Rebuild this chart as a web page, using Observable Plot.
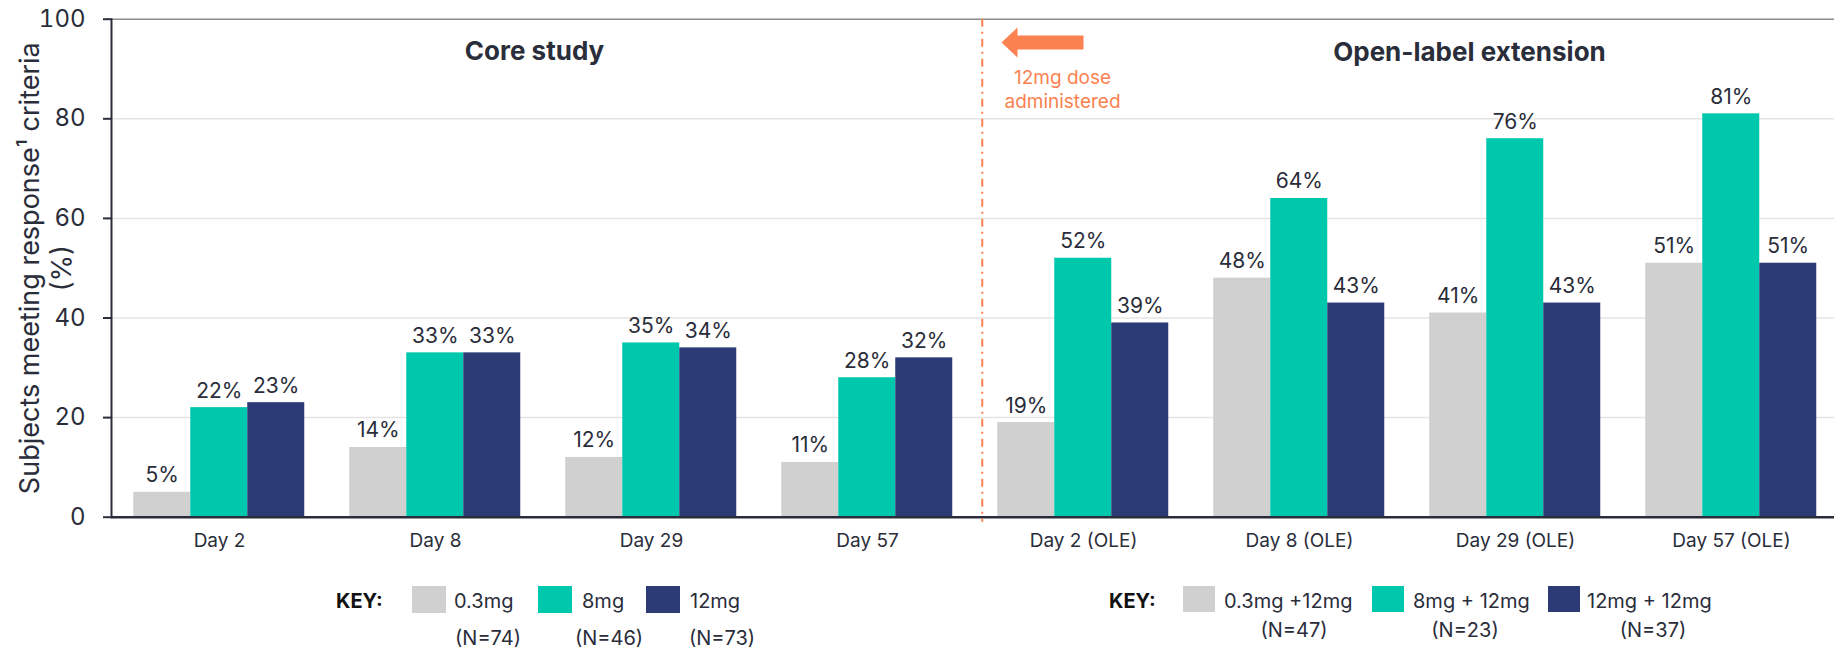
<!DOCTYPE html>
<html><head><meta charset="utf-8">
<script src="https://cdn.jsdelivr.net/npm/d3@7"></script>
<script src="https://cdn.jsdelivr.net/npm/@observablehq/plot@0.6"></script>
<style>
html,body{margin:0;padding:0;background:#fff;overflow:hidden;width:1834px;height:649px;}
#wrap{position:relative;width:1834px;height:649px;}
#wrap svg.legend{position:absolute;left:0;top:0;pointer-events:none;}
</style></head><body><div id="wrap"></div>
<script>
// ---- data ----
const days = ["Day 2","Day 8","Day 29","Day 57","Day 2 (OLE)","Day 8 (OLE)","Day 29 (OLE)","Day 57 (OLE)"];
const series = ["0.3mg","8mg","12mg"];
const lowValues  = [5, 14, 12, 11, 19, 48, 41, 51];
const midValues  = [22, 33, 35, 28, 52, 64, 76, 81];
const highValues = [23, 33, 34, 32, 39, 43, 43, 51];
const colors = ["#D0D0D0", "#00C8AC", "#2C3A76"];
const yTicks = [0, 20, 40, 60, 80, 100];
const gridTicks = [20, 40, 60, 80];
const coreKeyLabels = ["0.3mg", "8mg", "12mg"];
const coreKeyN = ["(N=74)", "(N=46)", "(N=73)"];
const oleKeyLabels = ["0.3mg +12mg", "8mg + 12mg", "12mg + 12mg"];
const oleKeyN = ["(N=47)", "(N=23)", "(N=37)"];
const yLabel = "Subjects meeting response\u00B9 criteria\n(%)";
const coreTitle = "Core study";
const oleTitle = "Open-label extension";
const doseNote = "12mg dose\nadministered";
const keyWord = "KEY:";

const textColor = "#2a2d3a";
const orange = "#FB8150";

const seriesValues = [lowValues, midValues, highValues];
const rows = days.flatMap((day, i) => series.map((s, j) => ({day, series: s, value: seriesValues[j][i]})));

const arrowSymbol = {
  draw(ctx) {
    ctx.moveTo(-41, 0); ctx.lineTo(-25, -15); ctx.lineTo(-25, -7); ctx.lineTo(41, -7);
    ctx.lineTo(41, 7); ctx.lineTo(-25, 7); ctx.lineTo(-25, 15); ctx.closePath();
  }
};

const H = 565, top0 = 18.7, base0 = 516.7, left0 = 108.75;

const chart = Plot.plot({
  width: 1834, height: H,
  marginLeft: left0, marginRight: 0, marginTop: top0, marginBottom: H - base0,
  style: {fontFamily: "Inter, sans-serif", color: textColor, background: "transparent", overflow: "visible"},
  fx: {domain: days, range: [left0, left0 + 8 * 216.5], padding: 0, label: null},
  x: {domain: series, paddingInner: 0, paddingOuter: 0.39, axis: null},
  y: {domain: [0, 100], label: null},
  color: {domain: series, range: colors},
  marks: [
    Plot.ruleY(gridTicks, {stroke: "#e4e4e4", strokeWidth: 1.5}),
    Plot.ruleY([100], {stroke: "#8c8c8c", strokeWidth: 1.5}),
    Plot.barY(rows, {fx: "day", x: "series", y: "value", fill: "series"}),
    Plot.ruleY([0], {stroke: textColor, strokeWidth: 2.5}),
    Plot.frame({anchor: "left", facetAnchor: "left", stroke: textColor, strokeWidth: 2}),
    Plot.axisY({ticks: yTicks, tickSize: 8, tickPadding: 18, fontSize: 24, strokeWidth: 2, label: null, fill: textColor}),
    Plot.axisFx({anchor: "bottom", tickSize: 0, tickPadding: 16, fontSize: 19, label: null, fill: textColor}),
    Plot.text(rows, {fx: "day", x: "series", y: "value", text: d => `${d.value}%`, lineAnchor: "bottom", dy: -10, fontSize: 21, fill: textColor}),
    Plot.text([{day: "Day 2"}], {fx: "day", frameAnchor: "left", text: () => yLabel, rotate: -90, fontSize: 27, lineHeight: 1.2, lineAnchor: "middle", textAnchor: "middle", dx: -67, fill: textColor}),
    Plot.text([{day: "Day 8"}], {fx: "day", frameAnchor: "top", text: () => coreTitle, fontSize: 26, fontWeight: "bold", lineAnchor: "middle", dx: 99, dy: 32, fill: textColor}),
    Plot.text([{day: "Day 29 (OLE)"}], {fx: "day", frameAnchor: "top", text: () => oleTitle, fontSize: 26, fontWeight: "bold", lineAnchor: "middle", dx: -46, dy: 33, fill: textColor}),
    Plot.ruleX([{day: "Day 2 (OLE)"}], {fx: "day", x: null, y1: 100, y2: 0, insetBottom: -5, dx: -101.25, stroke: orange, strokeWidth: 2, strokeDasharray: "8,5,2,5"}),
    Plot.dot([{day: "Day 2 (OLE)"}], {fx: "day", frameAnchor: "top", symbol: arrowSymbol, fill: orange, stroke: "none", dx: -41, dy: 23.3}),
    Plot.text([{day: "Day 2 (OLE)"}], {fx: "day", frameAnchor: "top", text: () => doseNote, fontSize: 19, lineHeight: 1.26, lineAnchor: "top", dx: -21, dy: 48, fill: orange})
  ]
});

const wrap = document.getElementById("wrap");
wrap.appendChild(chart);

// ---- legends (below the plot) ----
const lg = d3.select(wrap).append("svg").attr("class", "legend").attr("width", 1834).attr("height", 649);

function drawKey(cfg) {
  const g = lg.append("g").style("font-family", "Inter, sans-serif").attr("fill", textColor);
  g.append("text").attr("x", cfg.keyX).attr("y", 608).attr("font-size", 20).attr("font-weight", "bold").attr("fill", "#111").text(keyWord);
  cfg.labels.forEach((lab, i) => {
    g.append("rect").attr("x", cfg.swX[i]).attr("y", cfg.swY).attr("width", cfg.swW).attr("height", cfg.swH).attr("fill", colors[i]);
    g.append("text").attr("x", cfg.labX[i]).attr("y", 608).attr("font-size", 20).text(lab);
    g.append("text").attr("x", cfg.nX[i]).attr("y", cfg.nY).attr("font-size", 20).attr("text-anchor", "middle").text(cfg.ns[i]);
  });
}
drawKey({keyX: 336, swX: [412, 538, 646], swY: 586, swW: 34, swH: 27,
  labX: [454, 582, 690], nX: [488, 609, 722], nY: 645, labels: coreKeyLabels, ns: coreKeyN});
drawKey({keyX: 1109, swX: [1183, 1372, 1548], swY: 586, swW: 32, swH: 26,
  labX: [1224, 1413, 1587], nX: [1294, 1465, 1653], nY: 637, labels: oleKeyLabels, ns: oleKeyN});
</script>
</body></html>
